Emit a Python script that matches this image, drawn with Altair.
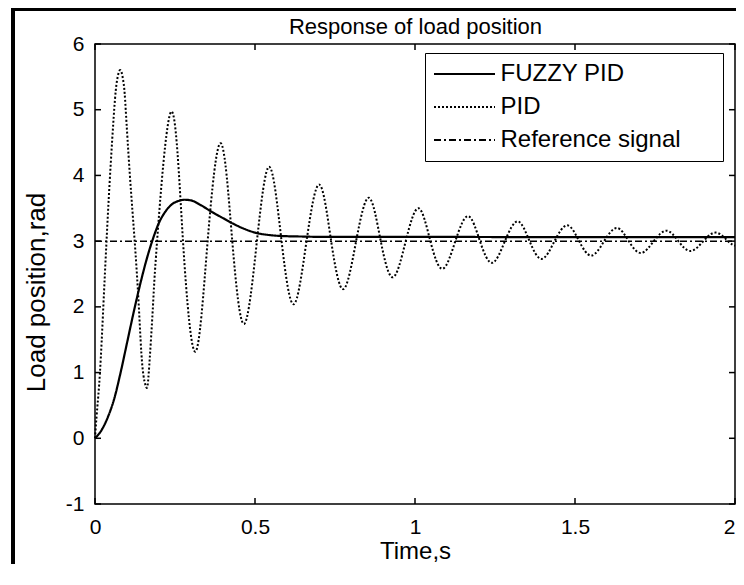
import altair as alt
import pandas as pd

# ---- data ----
series_names = ["FUZZY PID", "PID", "Reference signal"]

time_fuzzy = [0.0, 0.02, 0.04, 0.06, 0.08, 0.10, 0.12, 0.14, 0.16, 0.18, 0.20, 0.22,
              0.24, 0.26, 0.28, 0.30, 0.33, 0.36, 0.40, 0.43, 0.47, 0.50, 0.55, 0.60,
              0.65, 0.70, 0.80, 1.00, 1.50, 2.00]
load_fuzzy = [0.0, 0.12, 0.32, 0.60, 1.00, 1.45, 1.90, 2.32, 2.70, 3.02, 3.28, 3.45,
              3.56, 3.61, 3.63, 3.62, 3.55, 3.46, 3.35, 3.27, 3.18, 3.13, 3.09, 3.075,
              3.07, 3.065, 3.065, 3.065, 3.06, 3.06]

time_pid = [0.0, 0.006, 0.0155, 0.026, 0.036, 0.047, 0.060, 0.069, 0.080, 0.090,
            0.096, 0.109, 0.124, 0.137, 0.148, 0.160, 0.168, 0.181, 0.194, 0.238,
            0.275, 0.314, 0.352, 0.393,
            0.429, 0.466, 0.506, 0.545, 0.583, 0.621, 0.661, 0.701,
            0.738, 0.776, 0.816, 0.856, 0.893, 0.931, 0.971, 1.011,
            1.048, 1.086, 1.126, 1.166, 1.203, 1.241, 1.281, 1.321,
            1.358, 1.396, 1.436, 1.476, 1.513, 1.551, 1.591, 1.631,
            1.668, 1.706, 1.746, 1.786, 1.823, 1.861, 1.901, 1.941,
            1.978, 2.0]
load_pid = [0.0, 0.40, 1.0, 2.0, 3.0, 4.0, 5.0, 5.45, 5.60, 5.38,
            5.0, 4.0, 3.0, 2.0, 1.1, 0.78, 1.0, 2.0, 3.0, 4.97,
            3.0, 1.32, 3.0, 4.49,
            3.0, 1.74, 3.0, 4.13, 3.0, 2.04, 3.0, 3.86,
            3.0, 2.27, 3.0, 3.66, 3.0, 2.45, 3.0, 3.50,
            3.0, 2.58, 3.0, 3.38, 3.0, 2.67, 3.0, 3.30,
            3.0, 2.73, 3.0, 3.24, 3.0, 2.78, 3.0, 3.20,
            3.0, 2.82, 3.0, 3.16, 3.0, 2.85, 3.0, 3.13,
            3.0, 2.93]

time_ref = [0.0, 2.0]
load_ref = [3.0, 3.0]

x_ticks = [0, 0.5, 1, 1.5, 2]
y_ticks = [-1, 0, 1, 2, 3, 4, 5, 6]

chart_title = "Response of load position"
x_title = "Time,s"
y_title = "Load position,rad"

# ---- layout ----
W, H = 640, 460
FONT = "Liberation Sans"
TICK = 6

df_fuzzy = pd.DataFrame({"t": time_fuzzy, "v": load_fuzzy, "series": series_names[0]})
df_pid = pd.DataFrame({"t": time_pid, "v": load_pid, "series": series_names[1]})
df_ref = pd.DataFrame({"t": time_ref, "v": load_ref, "series": series_names[2]})

x_scale = alt.Scale(domain=[0, 2], nice=False, zero=False)
y_scale = alt.Scale(domain=[-1, 6], nice=False, zero=False)
x_axis = alt.Axis(
    values=x_ticks, title=x_title, labelPadding=12, titlePadding=2,
    titleFontSize=24, labelFlush=False, labelExpr="'' + datum.value",
    labelAlign={"condition": {"test": "datum.value == 2", "value": "right"},
                "value": "center"},
)
x_axis_top = alt.Axis(orient="top", values=x_ticks, labels=False, title=chart_title,
                      titleFontSize=22, titlePadding=6)
y_axis = alt.Axis(values=y_ticks, title=y_title, labelPadding=11,
                  titlePadding=16, titleFontSize=26, titleY=248,
                  labelExpr="datum.value < 0 ? '-' + abs(datum.value) : '' + datum.value")


def X(axis=None):
    return alt.X("t:Q", scale=x_scale, axis=axis)


def Y():
    return alt.Y("v:Q", scale=y_scale, axis=y_axis)


pad = "\u00a0" * 5 + "\u200b"
dash_scale = alt.Scale(domain=series_names, range=[[1, 0], [2, 2], [7, 3, 2, 3]])
legend = alt.Legend(
    orient="none", legendX=330, legendY=9, title=None,
    symbolType="M-6.1,0H6.1", symbolSize=100, symbolStrokeWidth=2,
    symbolStrokeColor="black", symbolOffset=18.5, labelOffset=24,
    labelFont=FONT, labelFontSize=24, labelColor="black", labelLimit=500,
    labelExpr="datum.label + '" + pad + "'",
    rowPadding=9, padding=9, strokeColor="black", fillColor="white",
)


def D():
    return alt.StrokeDash("series:N", scale=dash_scale, legend=legend)


ref_line = alt.Chart(df_ref).mark_line(color="black", strokeWidth=1.5).encode(
    x=X(x_axis), y=Y(), strokeDash=D())
pid_line = alt.Chart(df_pid).mark_line(color="black", strokeWidth=2,
                                       interpolate="natural").encode(
    x=X(), y=Y(), strokeDash=D())
fuzzy_line = alt.Chart(df_fuzzy).mark_line(color="black", strokeWidth=2.2,
                                           interpolate="monotone").encode(
    x=X(), y=Y(), strokeDash=D())

df_xt = pd.DataFrame({"t": x_ticks})
df_yt = pd.DataFrame({"v": y_ticks})
tick_style = dict(color="black", strokeWidth=1.5)
xt_bottom = alt.Chart(df_xt).mark_rule(**tick_style).encode(
    x=X(), y=alt.value(H), y2=alt.value(H - TICK))
xt_top = alt.Chart(df_xt).mark_rule(**tick_style).encode(
    x=X(x_axis_top), y=alt.value(0), y2=alt.value(TICK))
yt_left = alt.Chart(df_yt).mark_rule(**tick_style).encode(
    y=Y(), x=alt.value(0), x2=alt.value(TICK))
yt_right = alt.Chart(df_yt).mark_rule(**tick_style).encode(
    y=Y(), x=alt.value(W), x2=alt.value(W - TICK))

# outer figure frame (decoration)
frame_data = alt.Data(values=[{"k": 1}])
frame_left = alt.Chart(frame_data).mark_rule(color="black", strokeWidth=4).encode(
    x=alt.value(-82), y=alt.value(-37), y2=alt.value(H + 120))
frame_top = alt.Chart(frame_data).mark_rule(color="black", strokeWidth=4).encode(
    x=alt.value(-84), x2=alt.value(W + 20), y=alt.value(-35))

chart = alt.layer(
    ref_line, pid_line, fuzzy_line, xt_bottom, xt_top, yt_left, yt_right,
    frame_left, frame_top,
).resolve_axis(
    x="independent"
).properties(
    width=W, height=H,
    autosize=alt.AutoSizeParams(type="none"),
    padding={"left": 87, "top": 36, "right": 1, "bottom": 60},
    background="white",
).configure_view(
    stroke="black", strokeWidth=1.5
).configure_axis(
    labelFont=FONT, labelFontSize=21, labelColor="black",
    titleFont=FONT, titleFontWeight="normal", titleColor="black",
    ticks=False, domain=False, grid=False,
)

chart.save("out.html", embed_options={"renderer": "svg", "actions": False})
